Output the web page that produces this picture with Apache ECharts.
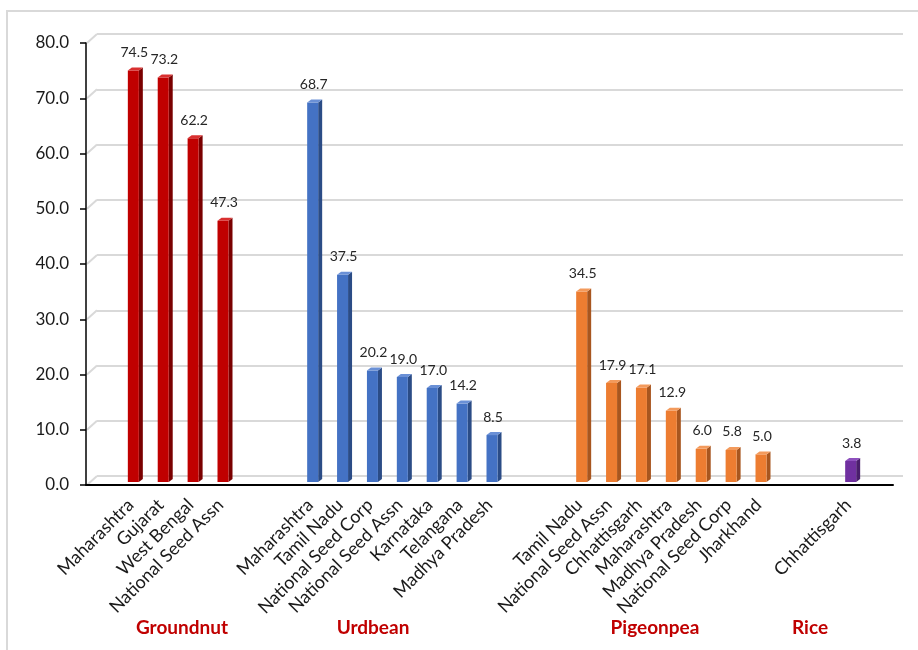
<!DOCTYPE html>
<html>
<head>
<meta charset="utf-8">
<script src="https://cdn.jsdelivr.net/npm/echarts@6/dist/echarts.min.js"></script>
<style>html,body{margin:0;padding:0;background:#fff}#c{width:918px;height:650px}</style>
</head>
<body>
<div id="c"></div>
<script>
const groundnutStates = ['Maharashtra','Gujarat','West Bengal','National Seed Assn'];
const groundnutValues = [74.5, 73.2, 62.2, 47.3];
const urdbeanStates = ['Maharashtra','Tamil Nadu','National Seed Corp','National Seed Assn','Karnataka','Telangana','Madhya Pradesh'];
const urdbeanValues = [68.7, 37.5, 20.2, 19.0, 17.0, 14.2, 8.5];
const pigeonpeaStates = ['Tamil Nadu','National Seed Assn','Chhattisgarh','Maharashtra','Madhya Pradesh','National Seed Corp','Jharkhand'];
const pigeonpeaValues = [34.5, 17.9, 17.1, 12.9, 6.0, 5.8, 5.0];
const riceStates = ['Chhattisgarh'];
const riceValues = [3.8];
const groupNames = ['Groundnut','Urdbean','Pigeonpea','Rice'];
const yTicks = [0,10,20,30,40,50,60,70,80];

const groups = [
  {states: groundnutStates, values: groundnutValues, color: '#C00000', side: '#7A0000', top: '#D93030'},
  {states: urdbeanStates, values: urdbeanValues, color: '#4472C4', side: '#2B4C86', top: '#6A90D6'},
  {states: pigeonpeaStates, values: pigeonpeaValues, color: '#ED7D31', side: '#A8561F', top: '#F39A5C'},
  {states: riceStates, values: riceValues, color: '#7030A0', side: '#4A1E6C', top: '#8E50BE'}
];

const categories = [''];
groups.forEach((g, gi) => {
  g.start = categories.length;
  g.states.forEach(s => categories.push(s));
  if (gi < groups.length - 1) { categories.push(''); categories.push(''); }
});
categories.push('');

function makeRender(g) {
  return function (params, api) {
    const idx = api.value(0), val = api.value(1);
    const p = api.coord([idx, val]);
    const b = api.coord([idx, 0]);
    const cx = p[0], yt = p[1] - 3, yb = b[1] - 3;
    const l = cx - 3, r = cx + 8, dx = 4, dy = 3;
    return {
      type: 'group',
      children: [
        {type: 'polygon', shape: {points: [[r, yt], [r + dx, yt - dy], [r + dx, yb - dy], [r, yb]]}, style: {fill: g.side}},
        {type: 'rect', shape: {x: l, y: yt, width: r - l, height: yb - yt}, style: {fill: g.color}},
        {type: 'polygon', shape: {points: [[l, yt], [r, yt], [r + dx, yt - dy], [l + dx, yt - dy]]}, style: {fill: g.top}},
        {type: 'text', style: {text: val.toFixed(1), x: (l + r) / 2 + 1, y: yt - 18, align: 'center', verticalAlign: 'middle', font: '14px Lato', fill: '#262626'}}
      ]
    };
  };
}

const series = groups.map(g => ({
  type: 'custom',
  xAxisIndex: 0, yAxisIndex: 0,
  renderItem: makeRender(g),
  data: g.values.map((v, i) => [g.start + i, v]),
  z: 5
}));

const chart = echarts.init(document.getElementById('c'), null, {renderer: 'canvas'});
const groupX = [182, 373, 655, 810];
const option = {
  backgroundColor: '#ffffff',
  animation: false,
  grid: [
    {left: 86, right: 25, top: 43, bottom: 165},
    {left: 97, right: 15, top: 34, bottom: 174}
  ],
  xAxis: [
    {type: 'category', gridIndex: 0, data: categories, boundaryGap: true,
     axisLine: {show: true, lineStyle: {color: '#000', width: 2}},
     axisTick: {show: false},
     axisLabel: {interval: 0, rotate: 45, margin: 17, fontFamily: 'Lato', fontSize: 18, color: '#1a1a1a'},
     splitLine: {show: false}, z: 10},
    {type: 'value', gridIndex: 1, min: 0, max: 1, show: false}
  ],
  yAxis: [
    {type: 'value', gridIndex: 0, min: 0, max: 80, interval: 10,
     axisLine: {show: true, lineStyle: {color: '#000', width: 1.5}},
     axisTick: {show: true, length: 6, lineStyle: {color: '#000', width: 1.5}},
     axisLabel: {formatter: v => v.toFixed(1), margin: 17, fontFamily: 'Lato', fontSize: 17, color: '#1a1a1a'},
     splitLine: {show: false}, z: 10},
    {type: 'value', gridIndex: 1, min: 0, max: 80, interval: 10,
     axisLine: {show: false}, axisTick: {show: false}, axisLabel: {show: false},
     splitLine: {show: true, lineStyle: {color: '#D9D9D9', width: 2}}}
  ],
  series: series,
  graphic: [
    {type: 'rect', shape: {x: 7, y: 11, width: 1000, height: 1000}, style: {fill: null, stroke: '#D9D9D9', lineWidth: 2}, z: 0}
  ].concat(groupNames.map((n, i) => ({
    type: 'text', x: groupX[i], y: 628,
    style: {text: n, align: 'center', verticalAlign: 'middle', font: 'bold 19px Lato', fill: '#C00000'}, z: 10
  })))
};
chart.setOption(option);

const connectors = yTicks.map(t => {
  const y0 = chart.convertToPixel({yAxisIndex: 0}, t);
  const y1 = chart.convertToPixel({yAxisIndex: 1}, t);
  return {type: 'line', shape: {x1: 87, y1: y0, x2: 97, y2: y1}, style: {stroke: '#D9D9D9', lineWidth: 2}, z: 1};
});
chart.setOption({graphic: option.graphic.concat(connectors)});
</script>
</body>
</html>
